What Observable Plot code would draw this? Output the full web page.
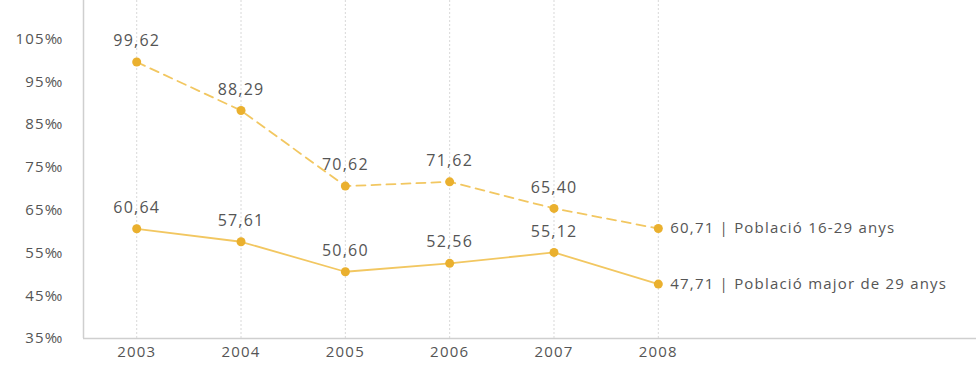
<!DOCTYPE html>
<html><head><meta charset="utf-8">
<script src="https://cdn.jsdelivr.net/npm/d3@7"></script>
<script src="https://cdn.jsdelivr.net/npm/@observablehq/plot@0.6"></script>
<style>
body{margin:0;background:#fff;}
svg{font-family:"Open Sans",sans-serif;}
svg text{letter-spacing:1.2px;}
</style></head><body>
<div id="chart"></div>
<script>
const years = [2003, 2004, 2005, 2006, 2007, 2008];
const young = [99.62, 88.29, 70.62, 71.62, 65.40, 60.71];
const older = [60.64, 57.61, 50.60, 52.56, 55.12, 47.71];
const seriesNames = ["Població 16-29 anys", "Població major de 29 anys"];
const yTicks = [35, 45, 55, 65, 75, 85, 95, 105];

const fmt = v => v.toFixed(2).replace(".", ",");
const rows = [];
years.forEach((y, i) => {
  rows.push({year: y, value: young[i], s: seriesNames[0]});
  rows.push({year: y, value: older[i], s: seriesNames[1]});
});
const lastRows = rows.filter(d => d.year === 2008);
const innerRows = rows.filter(d => d.year !== 2008);

const lineCol = "#f2c761";
const dotCol = "#eab02e";

const chart = Plot.plot({
  width: 976,
  height: 368,
  marginLeft: 83,
  marginRight: 0,
  marginTop: 0,
  marginBottom: 30,
  style: {fontFamily: "Open Sans, sans-serif", fontSize: "15px", color: "#555"},
  x: {type: "linear", domain: [2002.49, 2011.05], ticks: years, tickFormat: d => String(d), tickSize: 0, tickPadding: 8, label: null},
  y: {domain: [35, 114], ticks: yTicks, tickFormat: d => d + "‰", tickSize: 0, tickPadding: 20, label: null},
  marks: [
    Plot.ruleX(years, {stroke: "#d8d8d8", strokeDasharray: "2,2", strokeWidth: 1}),
    Plot.ruleY([35], {stroke: "#cfcfcf", strokeWidth: 1.5}),
    Plot.ruleX([2002.49], {stroke: "#cfcfcf", strokeWidth: 1.5}),
    Plot.lineY(rows.filter(d => d.s === seriesNames[0]), {x: "year", y: "value", stroke: lineCol, strokeWidth: 1.8, strokeDasharray: "9,6"}),
    Plot.lineY(rows.filter(d => d.s === seriesNames[1]), {x: "year", y: "value", stroke: lineCol, strokeWidth: 1.8}),
    Plot.dot(rows, {x: "year", y: "value", r: 4.5, fill: dotCol, stroke: "none"}),
    Plot.text(innerRows, {x: "year", y: "value", text: d => fmt(d.value), dy: -21, fill: "#555", fontSize: 16}),
    Plot.text(lastRows, {x: "year", y: "value", text: d => fmt(d.value) + " | " + d.s, dx: 12, textAnchor: "start", fill: "#555", fontSize: 15})
  ]
});
document.getElementById("chart").appendChild(chart);
</script>
</body></html>
